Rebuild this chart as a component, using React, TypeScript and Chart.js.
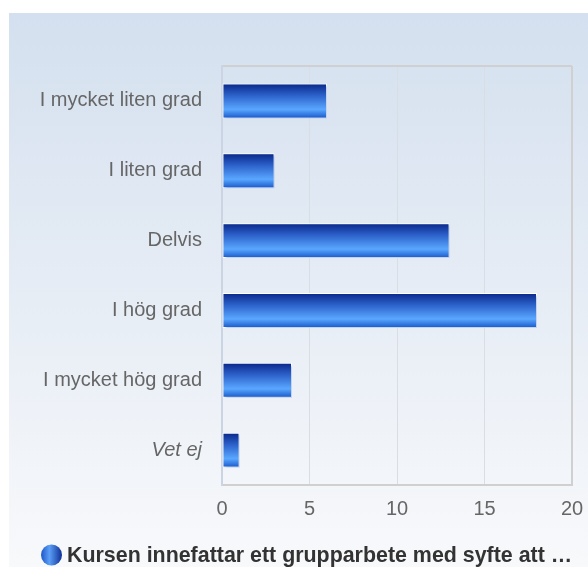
import React, { useEffect, useRef } from "react";
import { Chart, registerables } from "chart.js";

Chart.register(...registerables);

const categories = [
  "I mycket liten grad",
  "I liten grad",
  "Delvis",
  "I hög grad",
  "I mycket hög grad",
  "Vet ej",
];
const values = [6, 3, 13, 18, 4, 1];
const seriesLabel = "Kursen innefattar ett grupparbete med syfte att …";
const xTicks = [0, 5, 10, 15, 20];

const FONT = "'Liberation Sans', Arial, sans-serif";

const backgroundPlugin = {
  id: "panelBg",
  beforeDraw(chart: any) {
    const { ctx, width, height } = chart;
    ctx.save();
    ctx.fillStyle = "#ffffff";
    ctx.fillRect(0, 0, width, height);
    const g = ctx.createLinearGradient(0, 13, 0, height);
    g.addColorStop(0, "#d4e0ef");
    g.addColorStop(1, "#f8f9fb");
    ctx.fillStyle = g;
    ctx.fillRect(9, 13, width - 9, height - 13);
    ctx.restore();
  },
};

const shadowPlugin = {
  id: "barShadow",
  beforeDatasetsDraw(chart: any) {
    const ctx = chart.ctx;
    ctx.save();
    ctx.shadowColor = "rgba(120,150,210,0.45)";
    ctx.shadowOffsetX = 2;
    ctx.shadowOffsetY = 2;
    ctx.shadowBlur = 2;
  },
  afterDatasetsDraw(chart: any) {
    chart.ctx.restore();
  },
};

const legendPlugin = {
  id: "customLegend",
  afterDraw(chart: any) {
    const { ctx } = chart;
    const label = chart.data.datasets[0].label;
    const cx = 51.5;
    const cy = 555;
    const r = 10.5;
    ctx.save();
    const g = ctx.createLinearGradient(cx - r, 0, cx + r, 0);
    g.addColorStop(0, "#1d56c8");
    g.addColorStop(0.4, "#5b9ef6");
    g.addColorStop(1, "#0d2f96");
    ctx.beginPath();
    ctx.arc(cx, cy, r, 0, Math.PI * 2);
    ctx.fillStyle = g;
    ctx.fill();
    ctx.fillStyle = "#333333";
    ctx.font = `bold 21.4px ${FONT}`;
    ctx.textBaseline = "middle";
    ctx.textAlign = "left";
    ctx.fillText(label, 67, cy + 1);
    ctx.restore();
  },
};

export default function App() {
  const ref = useRef<HTMLCanvasElement | null>(null);

  useEffect(() => {
    document.body.style.margin = "0";
    const canvas = ref.current;
    if (!canvas) return;
    const chart = new Chart(canvas, {
      type: "bar",
      data: {
        labels: categories,
        datasets: [
          {
            label: seriesLabel,
            data: values,
            backgroundColor: (c: any) => {
              const ch = c.chart;
              const { ctx, chartArea, scales } = ch;
              if (!chartArea || c.dataIndex === undefined || !scales.y) return "#2e62c8";
              const y = scales.y.getPixelForValue(c.dataIndex);
              const half = 17;
              const g = ctx.createLinearGradient(0, y - half, 0, y + half);
              g.addColorStop(0, "#0a288a");
              g.addColorStop(0.35, "#2d63cc");
              g.addColorStop(0.75, "#5aa7ff");
              g.addColorStop(1, "#1a5bcc");
              return g;
            },
            borderColor: "#ffffff",
            borderWidth: 1,
            borderSkipped: false,
            categoryPercentage: 1,
            barPercentage: 0.5,
          },
        ],
      },
      options: {
        indexAxis: "y",
        responsive: false,
        animation: false,
        layout: { padding: { left: 0, right: 16, top: 66, bottom: 42 } },
        plugins: {
          legend: { display: false },
          tooltip: { enabled: false },
        },
        scales: {
          x: {
            type: "linear",
            min: xTicks[0],
            max: xTicks[xTicks.length - 1],
            afterFit: (s: any) => {
              s.height = 40;
              s.paddingLeft = 0;
              s.paddingRight = 0;
            },
            afterBuildTicks: (s: any) => {
              s.ticks = xTicks.map((v) => ({ value: v }));
            },
            ticks: {
              color: "#666666",
              padding: 12,
              font: { family: FONT, size: 20 },
            },
            grid: {
              drawTicks: false,
              color: (c: any) => {
                const v = c.tick ? c.tick.value : null;
                if (v === 0) return "rgba(0,0,0,0)";
                if (v === 20) return "#d0d0d0";
                return "#d9dde4";
              },
              lineWidth: (c: any) => (c.tick && c.tick.value === 20 ? 2 : 1),
            },
            border: { color: "#d0d0d0", width: 2 },
          },
          y: {
            type: "category",
            afterFit: (s: any) => {
              s.width = 222;
              s.paddingTop = 0;
              s.paddingBottom = 0;
            },
            ticks: {
              color: "#666666",
              padding: 20,
              font: (c: any) => ({
                family: FONT,
                size: 20,
                style: c.index === 5 ? "italic" : "normal",
              }),
            },
            grid: {
              drawTicks: false,
              offset: true,
              color: (c: any) => (c.index === 0 ? "#d0d0d0" : "rgba(0,0,0,0)"),
              lineWidth: 2,
            },
            border: { color: "#cbd4e3", width: 2 },
          },
        },
      },
      plugins: [backgroundPlugin, shadowPlugin, legendPlugin],
    } as any);
    return () => chart.destroy();
  }, []);

  return <canvas ref={ref} width={588} height={567} style={{ display: "block" }} />;
}
